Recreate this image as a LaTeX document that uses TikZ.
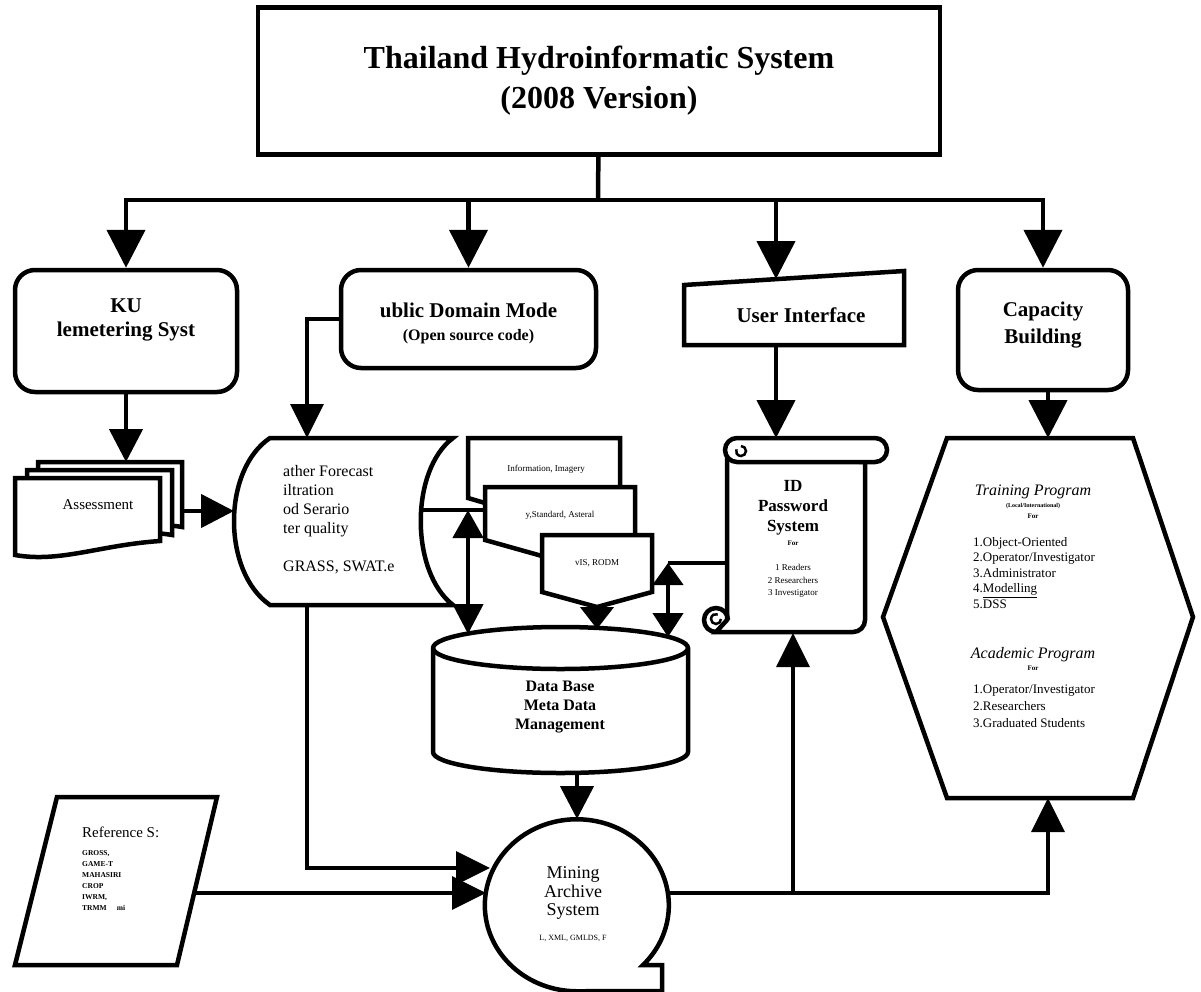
\documentclass[tikz,border=0pt]{standalone}
\usepackage{fontspec}
\setmainfont{Liberation Serif}
\usetikzlibrary{positioning,arrows.meta}
\newcommand{\fsz}[2]{\fontsize{#1pt}{#2pt}\selectfont}
\tikzset{
  shp/.style={draw,line width=4.5pt,fill=white},
  rbox/.style={shp,rounded corners=20pt,inner sep=0pt},
  lbl/.style={align=center,inner sep=0pt},
  ln/.style={line width=4.5pt},
  lnt/.style={line width=3.5pt},
  arr/.style={ln,-{Triangle[width=38pt,length=38pt]}},
  arrm/.style={ln,-{Triangle[width=33pt,length=33pt]}},
  arrt/.style={lnt,-{Triangle[width=33pt,length=34pt]}},
  dbl/.style={ln,{Triangle[width=30pt,length=28pt]}-{Triangle[width=30pt,length=30pt]}},
  dbls/.style={ln,{Triangle[width=30pt,length=22pt]}-{Triangle[width=30pt,length=24pt]}},
}

\begin{document}
\begin{tikzpicture}[x=1pt,y=-1pt]
\useasboundingbox (0,0) rectangle (1201,991);

% title
\node[shp,lbl,minimum width=682pt,minimum height=147pt,font=\fsz{32}{40}\bfseries] (title) at (599,81) {Thailand Hydroinformatic System\\(2008 Version)};

% first row
\node[rbox,minimum width=222pt,minimum height=122pt] (ku) at (126,331) {};
\node[lbl,font=\fsz{21}{24}\bfseries] (kut) at (126,320) {KU\\lemetering Syst};
\node[rbox,minimum width=255pt,minimum height=98pt] (pd) at (468.5,319) {};
\node[lbl,font=\fsz{21}{23}\bfseries] (pdt) at (468.5,323) {ublic Domain Mode\\{\fsz{16}{18}(Open source code)}};
\filldraw[shp] (684,285) -- (904,271) -- (904,345) -- (684,345) -- cycle;
\node[lbl,font=\fsz{21}{25}\bfseries] (ui) at (801,315) {User Interface};
\node[rbox,minimum width=170pt,minimum height=120pt] (cap) at (1043,330) {};
\node[lbl,font=\fsz{21}{27}\bfseries] (capt) at (1043,325) {Capacity\\Building};

% assessment (multi document)
\filldraw[shp] (38,462) -- (182,462) -- (182,527) .. controls (130,518) and (90,540) .. (38,530) -- cycle;
\filldraw[shp] (27,470) -- (172,470) -- (172,535) .. controls (120,526) and (80,548) .. (27,538) -- cycle;
\filldraw[shp] (15,478) -- (160,478) -- (160,541) .. controls (100,545) and (60,563) .. (15,555) -- cycle;
\node[lbl,font=\fsz{15}{18}] (asm) at (98,505) {Assessment};

% stored data
\filldraw[shp] (270,438) -- (453,438) .. controls (410,470) and (410,572) .. (453,605) -- (270,605) .. controls (222,572) and (222,470) .. (270,438) -- cycle;
\node[lbl,align=left,anchor=west,font=\fsz{16}{19}] (wx) at (283,520) {ather Forecast\\iltration\\od Serario\\ter quality\\[19pt]GRASS, SWAT.e};

% document stack
\filldraw[shp] (468,438) -- (620,438) -- (620,500) -- (485,503) -- (468,498) -- cycle;
\filldraw[shp] (485,487) -- (635,487) -- (635,550) -- (542,556) -- (485,540) -- cycle;
\filldraw[shp] (542,535) -- (652,535) -- (652,592) -- (597,607) -- (542,592) -- cycle;
\node[lbl,font=\fsz{9}{11}] (inf) at (546,469) {Information, Imagery};
\node[lbl,font=\fsz{9}{11}] (std) at (560,515) {y,Standard, Asteral};
\node[lbl,font=\fsz{9}{11}] (vis) at (597,563) {vIS, RODM};

% ID scroll
\filldraw[shp] (727,456) -- (727,620) -- (716,632) -- (853,632) arc[start angle=90,end angle=0,radius=12] -- (865,462) -- cycle;
\draw[ln] (716,632) arc[start angle=90,end angle=360,radius=12];
\draw[line width=2.5pt] (721,619) arc[start angle=0,end angle=290,radius=5];
\filldraw[shp] (737,438) -- (875,438) arc[start angle=-90,end angle=90,radius=12] -- (737,462) arc[start angle=90,end angle=270,radius=12] -- cycle;
\draw[line width=2.5pt] (741,446) arc[start angle=-90,end angle=200,radius=5];
\node[lbl,font=\fsz{17}{20}\bfseries] (idp) at (793,508) {ID\\Password\\System};
\node[lbl,font=\fsz{7}{9}\bfseries] (idf) at (793,543) {For};
\node[lbl,font=\fsz{9}{12.5}] (idl) at (793,581) {1 Readers\\2 Researchers\\3 Investigator};

% capacity hexagon
\filldraw[shp] (947,438) -- (1133,438) -- (1193,617) -- (1133,798) -- (947,798) -- (883,617) -- cycle;
\node[lbl,font=\fsz{16}{19}\itshape] (trn) at (1033,492) {Training Program};
\node[lbl,font=\fsz{6}{7}\bfseries] (loc) at (1033,506) {(Local/International)};
\node[lbl,font=\fsz{7}{8}\bfseries] (trf) at (1033,516) {For};
\node[lbl,align=left,anchor=north west,font=\fsz{13}{15.5}] (trl) at (973,537) {1.Object-Oriented\\2.Operator/Investigator\\3.Administrator\\4.\underline{Modelling}\\5.DSS};
\node[lbl,font=\fsz{16}{19}\itshape] (acd) at (1033,655) {Academic Program};
\node[lbl,font=\fsz{7}{8}\bfseries] (acf) at (1033,668) {For};
\node[lbl,align=left,anchor=north west,font=\fsz{13}{17}] (acl) at (973,685) {1.Operator/Investigator\\2.Researchers\\3.Graduated Students};

% database
\filldraw[shp] (433,648) -- (433,752) arc[start angle=180,end angle=0,x radius=127.5,y radius=21] -- (688,648) arc[start angle=0,end angle=-180,x radius=127.5,y radius=21] -- cycle;
\draw[ln] (433,648) arc[start angle=180,end angle=0,x radius=127.5,y radius=21];
\node[lbl,font=\fsz{16}{19}\bfseries] (db) at (560,707) {Data Base\\Meta Data\\Management};

% mining archive (tape)
\filldraw[shp] (643,965) arc[start angle=44,end angle=-270,x radius=92,y radius=86] -- (662,991) -- (662,965) -- cycle;
\node[lbl,font=\fsz{18}{18.5}] (mas) at (573,893) {Mining\\Archive\\System};
\node[lbl,font=\fsz{8}{10}] (masx) at (573,938) {L, XML, GMLDS, F};

% reference
\filldraw[shp] (57,797) -- (217,797) -- (177,965) -- (15,965) -- cycle;
\node[lbl,anchor=west,font=\fsz{15}{18}] (ref) at (82,832) {Reference S:};
\node[lbl,align=left,anchor=north west,font=\fsz{7.5}{11}\bfseries] (refl) at (82,850) {GROSS,\\GAME-T\\MAHASIRI\\CROP\\IWRM,\\TRMM\hspace{10pt}mi};

% connection points
\coordinate (j) at (598,200);
\coordinate (uitop) at (776,279);
\coordinate (uibot) at (776,345);
\coordinate (asmtop) at (126,462);
\coordinate (asmR) at (182,511);
\coordinate (wxL) at (234,511);
\coordinate (wxT) at (307,438);
\coordinate (wxB) at (307,605);
\coordinate (wxR) at (419,510);
\coordinate (docL) at (485,510);
\coordinate (dA) at (468,510);
\coordinate (dbA) at (468,634);
\coordinate (visB) at (597,607);
\coordinate (dbB) at (597,629);
\coordinate (idL) at (727,563);
\coordinate (dC) at (668,563);
\coordinate (dbC) at (668,637);
\coordinate (idT) at (776,438);
\coordinate (idB) at (793,633);
\coordinate (capB) at (1048,390);
\coordinate (hexT) at (1048,438);
\coordinate (hexB) at (1048,798);
\coordinate (dbbot) at (577,773);
\coordinate (masT) at (577,819);
\coordinate (masL1) at (490,868);
\coordinate (masL2) at (486,893);
\coordinate (refR) at (196,893);
\coordinate (masR) at (669,893);
\coordinate (jr) at (793,893);

% connectors
\draw[ln] (title) -- (j);
\draw[arr] (j) -| (ku);
\draw[arr] (j) -| (pd);
\draw[arr] (j) -| (uitop);
\draw[arr] (j) -| (cap);
\draw[arrm] (ku) -- (asmtop);
\draw[arrm] (asmR) -- (wxL);
\draw[arrt] (pd.west) -| (wxT);
\draw[ln] (wxR) -- (docL);
\draw[dbl] (dA) -- (dbA);
\draw[ln,-{Triangle[width=33pt,length=22pt]}] (visB) -- (dbB);
\draw[ln] (idL) -- (dC);
\draw[dbls] (dC) -- (dbC);
\draw[arr] (uibot) -- (idT);
\draw[arr] (capB) -- (hexT);
\draw[arrm] (dbbot) -- (masT);
\draw[arrt] (wxB) |- (masL1);
\draw[arrt] (refR) -- (masL2);
\draw[arrt] (masR) -| (hexB);
\draw[arrt] (jr) -- (idB);
\end{tikzpicture}
\end{document}
